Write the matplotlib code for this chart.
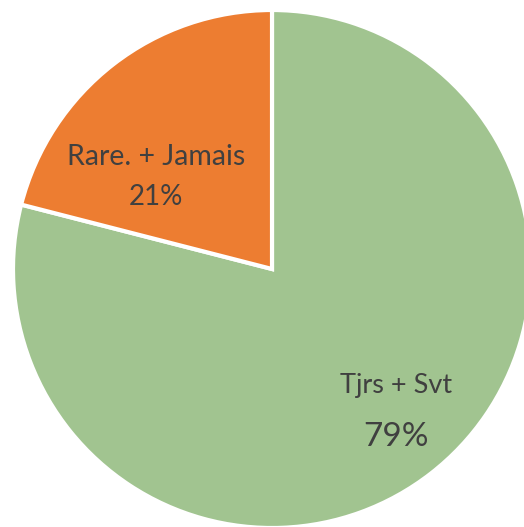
import matplotlib.pyplot as plt

categories = ['Tjrs + Svt', 'Rare. + Jamais']
values = [79, 21]
colors = ['#A1C490', '#ED7D31']

plt.rcParams['font.family'] = ['Lato', 'DejaVu Sans']

fig = plt.figure(figsize=(5.24, 5.27), dpi=100)
ax = fig.add_axes([0, 0, 1, 1])

# pie in pixel units, centre at (272, 269) from top-left
wedges, _ = ax.pie(values, colors=colors, startangle=90, counterclock=False,
                   radius=259, center=(0, 0),
                   wedgeprops=dict(edgecolor='white', linewidth=3))
ax.set_xlim(-272, 252)
ax.set_ylim(-258, 269)
ax.set_aspect('equal')
ax.axis('off')

total = sum(values)
pct = [round(v * 100 / total) for v in values]

txt = '#404040'
ax.text(124, -116, categories[0], ha='center', va='center', fontsize=19.5, color=txt)
ax.text(124, -168, f'{pct[0]}%', ha='center', va='center', fontsize=24, color=txt)
ax.text(-116, 112, categories[1], ha='center', va='center', fontsize=20.5, color=txt)
ax.text(-116, 72, f'{pct[1]}%', ha='center', va='center', fontsize=20, color=txt)

plt.savefig('out.png')
